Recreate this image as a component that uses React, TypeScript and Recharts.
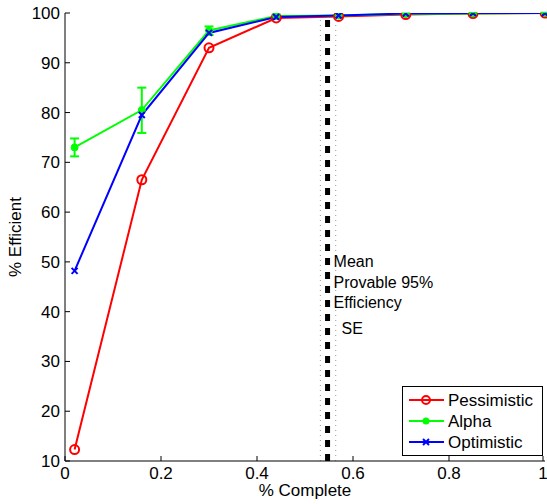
import { LineChart, Line, XAxis, YAxis, ReferenceLine, ErrorBar, Legend } from "recharts";

const FONT = "'Liberation Sans', Arial, Helvetica, sans-serif";

// fraction complete at each sample
const complete = [0.02, 0.16, 0.3, 0.44, 0.57, 0.71, 0.85, 1.0];
const pessimistic = [12.3, 66.5, 93.0, 99.0, 99.3, 99.7, 99.9, 100];
const alpha = [73.0, 80.5, 96.5, 99.4, 99.5, 99.8, 99.9, 100];
const alphaErr = [[1.8, 1.8], [4.6, 4.5], [0.9, 0.8], [0.3, 0.3], [0.1, 0.1], [0.1, 0.1], [0.1, 0.1], [0.05, 0.05]];
const optimistic = [48.2, 79.5, 96.0, 99.2, 99.5, 99.9, 100, 100];

const xTicks = [0, 0.2, 0.4, 0.6, 0.8, 1];
const yTicks = [10, 20, 30, 40, 50, 60, 70, 80, 90, 100];

const meanEff = 0.547;
const seLow = 0.532;
const seHigh = 0.564;
const noteLines = ["Mean", "Provable 95%", "Efficiency"];

const data = complete.map((c, i) => ({
  c,
  pessimistic: pessimistic[i],
  alpha: alpha[i],
  alphaErr: alphaErr[i],
  optimistic: optimistic[i],
}));

const RED = "#ff0000";
const GREEN = "#00ff00";
const BLUE = "#0000ff";

/* eslint-disable @typescript-eslint/no-explicit-any */
function Ring(p: any) {
  if (p.cx == null) return <g key={p.index} />;
  return <circle key={p.index} cx={p.cx} cy={p.cy} r={4.5} fill="none" stroke={RED} strokeWidth={2} />;
}
function Dot(p: any) {
  if (p.cx == null) return <g key={p.index} />;
  return <circle key={p.index} cx={p.cx} cy={p.cy} r={3.5} fill={GREEN} stroke={GREEN} />;
}
function Cross(p: any) {
  if (p.cx == null) return <g key={p.index} />;
  const s = 3;
  return (
    <path key={p.index} d={`M${p.cx - s},${p.cy - s}L${p.cx + s},${p.cy + s}M${p.cx + s},${p.cy - s}L${p.cx - s},${p.cy + s}`}
      stroke={BLUE} strokeWidth={2} fill="none" />
  );
}

function XTick({ x, y, payload }: any) {
  return (
    <g>
      <line x1={x} x2={x} y1={y} y2={y - 5} stroke="#000" />
      <text x={x} y={y + 18} textAnchor="middle" fontSize={17} fontFamily={FONT} fill="#000">{payload.value}</text>
    </g>
  );
}

function YTick({ x, y, payload }: any) {
  return (
    <g>
      <line x1={x} x2={x + 5} y1={y} y2={y} stroke="#000" />
      <text x={x - 5} y={y + 6} textAnchor="end" fontSize={17} fontFamily={FONT} fill="#000">{payload.value}</text>
    </g>
  );
}

function MeanNote({ viewBox }: any) {
  const x = viewBox.x;
  const top = viewBox.y;
  return (
    <text fontSize={16} fontFamily={FONT} fill="#000">
      {noteLines.map((t, i) => (
        <tspan key={t} x={x + 6} y={top + 254 + i * 20.5}>{t}</tspan>
      ))}
      <tspan x={x + 14} y={top + 321}>SE</tspan>
    </text>
  );
}

function LegendBox() {
  const items = [
    { name: "Pessimistic", color: RED, kind: "o" },
    { name: "Alpha", color: GREEN, kind: "." },
    { name: "Optimistic", color: BLUE, kind: "x" },
  ];
  return (
    <svg width={141} height={70} style={{ display: "block" }}>
      <rect x={0.5} y={0.5} width={140} height={69} fill="#fff" stroke="#000" />
      {items.map((it, i) => {
        const cy = 14 + i * 21;
        return (
          <g key={it.name}>
            <line x1={7} x2={42} y1={cy} y2={cy} stroke={it.color} strokeWidth={2} />
            {it.kind === "o" && <circle cx={24} cy={cy} r={4} fill="none" stroke={it.color} strokeWidth={2} />}
            {it.kind === "." && <circle cx={24} cy={cy} r={3.5} fill={it.color} />}
            {it.kind === "x" && <path d={`M21,${cy - 3}L27,${cy + 3}M27,${cy - 3}L21,${cy + 3}`} stroke={it.color} strokeWidth={2} />}
            <text x={46} y={cy + 6} fontSize={17} fontFamily={FONT} fill="#000">{it.name}</text>
          </g>
        );
      })}
    </svg>
  );
}
/* eslint-enable @typescript-eslint/no-explicit-any */

export default function App() {
  return (
    <div style={{ position: "fixed", left: 0, top: 0, width: 547, height: 504, background: "#fff" }}>
      <LineChart width={547} height={504} data={data} margin={{ top: 13, right: 2, bottom: 0, left: 0 }}>
        <XAxis
          type="number"
          dataKey="c"
          domain={[0, 1]}
          ticks={xTicks}
          tick={<XTick />}
          tickSize={0}
          tickMargin={0}
          tickLine={false}
          axisLine={{ stroke: "#000" }}
          height={43}
          label={{ value: "% Complete", position: "insideBottom", offset: 8, fontSize: 17, fontFamily: FONT, fill: "#000" }}
        />
        <YAxis
          type="number"
          domain={[10, 100]}
          ticks={yTicks}
          tick={<YTick />}
          tickSize={0}
          tickMargin={0}
          tickLine={false}
          axisLine={{ stroke: "#000" }}
          width={65}
          allowDataOverflow
          label={{ value: "% Efficient", position: "insideLeft", angle: -90, offset: 15, fontSize: 17, fontFamily: FONT, fill: "#000", style: { textAnchor: "middle" } }}
        />
        <ReferenceLine x={seLow} stroke="#999" strokeWidth={1} strokeDasharray="1 4" />
        <ReferenceLine x={seHigh} stroke="#999" strokeWidth={1} strokeDasharray="1 4" />
        <ReferenceLine x={meanEff} stroke="#000" strokeWidth={5} strokeDasharray="7 7" label={<MeanNote />} />
        <Legend layout="vertical" align="center" verticalAlign="middle" content={<LegendBox />}
          wrapperStyle={{ left: 402, top: 386, width: 141, height: 70 }} />
        <Line type="linear" dataKey="pessimistic" name="Pessimistic" stroke={RED} strokeWidth={2} dot={Ring} isAnimationActive={false} />
        <Line type="linear" dataKey="alpha" name="Alpha" stroke={GREEN} strokeWidth={2} dot={Dot} isAnimationActive={false}>
          <ErrorBar dataKey="alphaErr" width={4.5} strokeWidth={2} stroke={GREEN} direction="y" isAnimationActive={false} />
        </Line>
        <Line type="linear" dataKey="optimistic" name="Optimistic" stroke={BLUE} strokeWidth={2} dot={Cross} isAnimationActive={false} />
      </LineChart>
    </div>
  );
}
